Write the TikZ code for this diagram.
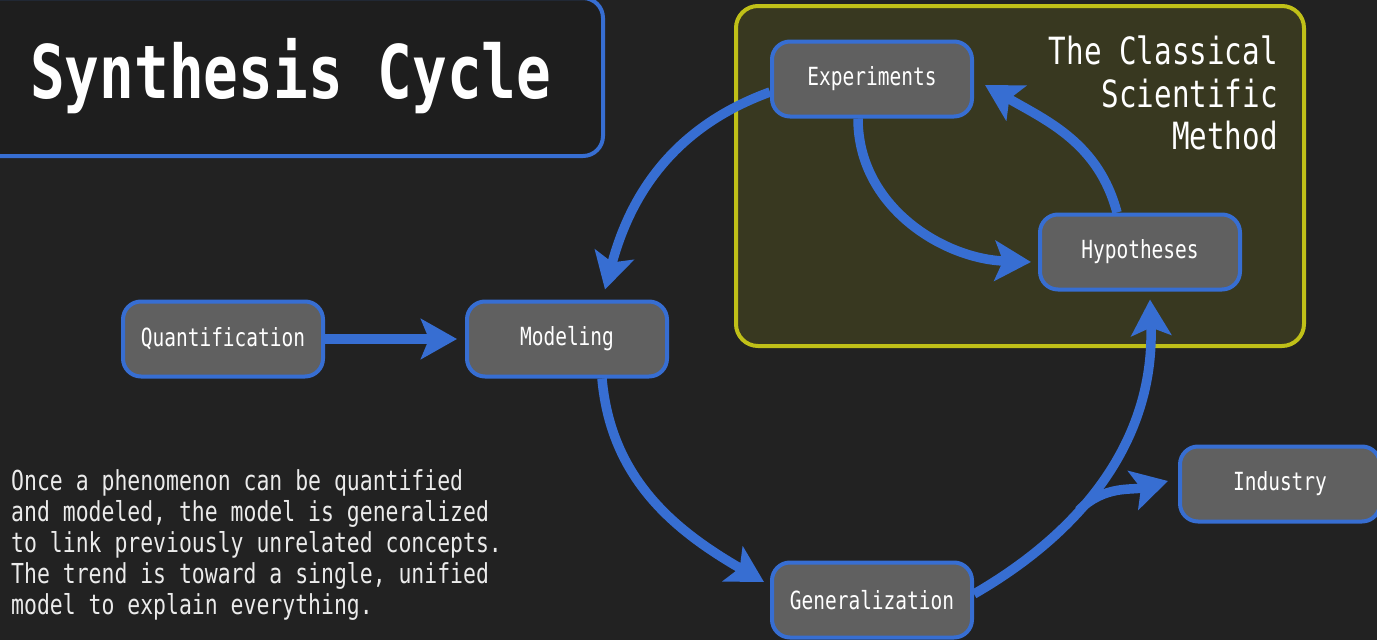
\documentclass[tikz,border=0pt]{standalone}
\usepackage{fontspec}
\usetikzlibrary{arrows.meta}
\newfontfamily\condfont[FakeStretch=0.78]{DejaVu Sans Mono}
\definecolor{bgdark}{RGB}{34,34,34}
\definecolor{titlebg}{RGB}{30,30,30}
\definecolor{cblue}{RGB}{55,110,210}
\definecolor{stagegray}{RGB}{96,96,96}
\definecolor{olivebg}{RGB}{56,56,32}
\definecolor{olivebd}{RGB}{192,192,24}
\tikzset{stage/.style = {draw = cblue, line width = 4pt, fill = stagegray, rounded corners = 18pt,
                         minimum width = 200pt, minimum height = 75pt, text = white,
                         font = \condfont\fontsize{25}{28}\selectfont}}
\tikzset{flow/.style = {draw = cblue, line width = 9.5pt, -{Stealth[length=36pt, width=40pt, inset=8pt]}}}

\begin{document}
\begin{tikzpicture}[x = 1pt, y = 1pt]
    \fill [bgdark] (0, 0) rectangle (1377, -640);
    \useasboundingbox (0, 0) rectangle (1377, -640);
    % title and the classical box
    \draw [cblue, line width = 4pt, fill = titlebg, rounded corners = 20pt] (-20, 2) rectangle (603, -156);
    \node [anchor = base west, inner sep = 0, text = white,
           font = \condfont\bfseries\fontsize{74}{80}\selectfont] (title) at (30, -98) {Synthesis Cycle};
    \draw [olivebd, line width = 4pt, fill = olivebg, rounded corners = 22pt] (736, -6) rectangle (1304, -346);
    \node [anchor = north east, inner sep = 0, align = right, text = white,
           font = \condfont\fontsize{37.5}{42.5}\selectfont] (method) at (1278, -36)
           {The Classical\\Scientific\\Method};
    \node [anchor = north west, inner sep = 0, align = left, text = white!92!black,
           font = \condfont\fontsize{27.5}{31.2}\selectfont] (note) at (11, -469)
           {Once a phenomenon can be quantified\\and modeled, the model is generalized\\to link previously unrelated concepts.\\The trend is toward a single, unified\\model to explain everything.};
    % stages
    \node [stage] (exp) at (872, -79) {Experiments};
    \node [stage] (hyp) at (1140, -252) {Hypotheses};
    \node [stage] (quant) at (223, -339) {Quantification};
    \node [stage] (mod) at (567, -339) {Modeling};
    \node [stage] (ind) at (1280, -484) {Industry};
    \node [stage] (gen) at (872, -600) {Generalization};
    % connectors
    \draw [flow] ([yshift = -13pt]exp.west) to [out = 200, in = 75] ([xshift = 38pt, yshift = 10pt]mod.north);
    \draw [flow] ([xshift = -14pt]exp.south) to [out = -90, in = 178] ([xshift = -7pt, yshift = -10pt]hyp.west);
    \draw [flow] ([xshift = -23pt]hyp.north) to [out = 105, in = -30] ([xshift = 11pt, yshift = -6pt]exp.east);
    \draw [flow] (quant.east) -- ([xshift = -8pt]mod.west);
    \draw [flow] ([xshift = 35pt]mod.south) to [out = -85, in = 150] ([xshift = -6pt, yshift = 18pt]gen.west);
    \draw [flow] ([yshift = 6pt]gen.east) to [out = 30, in = -88] coordinate [pos = 0.36] (fork)
          ([xshift = 10pt, yshift = -8pt]hyp.south);
    \draw [flow] (fork) to [out = 45, in = 195] ([xshift = -10pt, yshift = 3pt]ind.west);
\end{tikzpicture}
\end{document}
